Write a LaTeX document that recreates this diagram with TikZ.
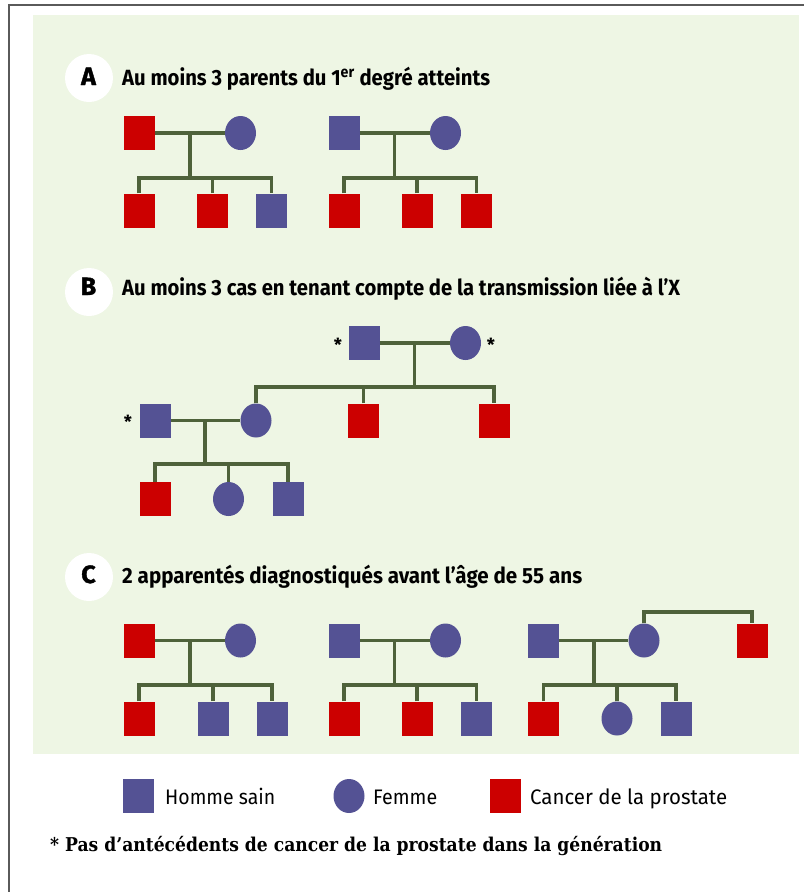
\documentclass[tikz,border=0pt]{standalone}
\usepackage{fontspec}
\usepackage{graphicx}
\setmainfont{Fira Sans}
\newfontfamily\heavyfont{Fira Sans}[BoldFeatures={FakeBold=1.5}]
\newfontfamily\notefont{DejaVu Serif}
\usetikzlibrary{calc,shapes.geometric}
\definecolor{bggreen}{RGB}{238,246,228}
\definecolor{lineg}{RGB}{78,98,58}
\definecolor{pblue}{RGB}{84,82,148}
\definecolor{pred}{RGB}{204,0,0}
\definecolor{frame}{RGB}{90,90,90}
\newcommand\fitw[2]{\resizebox{#1}{\height}{#2}}
\tikzset{
  person/.style={inner sep=0pt, minimum width=31pt, minimum height=34pt, draw=none},
  sain/.style={person, rectangle, fill=pblue},
  atteint/.style={person, rectangle, fill=pred},
  femme/.style={person, ellipse, fill=pblue},
  link/.style={draw=lineg, line width=3.2pt},
  letterdisc/.style={circle, fill=white, minimum size=48pt, inner sep=0pt},
  bigletter/.style={anchor=base, inner sep=0pt, font=\heavyfont\fontsize{25}{25}\selectfont\bfseries},
  titletext/.style={anchor=base west, inner sep=0pt, font=\fontsize{22}{22}\selectfont\bfseries},
  legtext/.style={anchor=base west, inner sep=0pt, font=\fontsize{21}{21}\selectfont},
  star/.style={inner sep=0pt, font=\fontsize{18}{18}\selectfont\bfseries}
}
\begin{document}
\begin{tikzpicture}[x=1pt,y=-1pt]
\useasboundingbox (0,0) rectangle (804,892);
% frame and background
\draw[frame, line width=2pt] (9,892) -- (9,5) -- (804,5);
\fill[bggreen] (33,15) rectangle (799,754);

% ---------- A ----------
\node[letterdisc] (discA) at (89,78) {};
\node[bigletter] (letA) at (88.5,85) {A};
\node[titletext] (titA) at (122,85) {\fitw{368pt}{Au moins 3 parents du 1\textsuperscript{er} degré atteints}};

\node[atteint] (a1f) at (139,133) {};
\node[femme]   (a1m) at (240.5,133) {};
\node[atteint] (a1c1) at (139,210.5) {};
\node[atteint] (a1c2) at (212.5,210.5) {};
\node[sain]    (a1c3) at (271.5,210.5) {};
\coordinate (a1d) at (190,133);
\coordinate (a1s) at (190,178);
\draw[link] (a1f.east) -- (a1m.west);
\draw[link] (a1d) -- (a1s);
\draw[link] (a1c1.north) |- (a1s) -| (a1c3.north);
\draw[link] (a1c2.north) -- (a1c2.north |- a1s);

\node[sain]    (a2f) at (344,133) {};
\node[femme]   (a2m) at (445.5,133) {};
\node[atteint] (a2c1) at (344,210.5) {};
\node[atteint] (a2c2) at (417,210.5) {};
\node[atteint] (a2c3) at (476.5,210.5) {};
\coordinate (a2d) at (394.5,133);
\coordinate (a2s) at (394.5,178);
\draw[link] (a2f.east) -- (a2m.west);
\draw[link] (a2d) -- (a2s);
\draw[link] (a2c1.north) |- (a2s) -| (a2c3.north);
\draw[link] (a2c2.north) -- (a2c2.north |- a2s);

% ---------- B ----------
\node[letterdisc] (discB) at (89,292) {};
\node[bigletter] (letB) at (88.5,295) {B};
\node[titletext] (titB) at (122,295) {\fitw{558pt}{Au moins 3 cas en tenant compte de la transmission liée à l’X}};

\node[sain]  (b1f) at (364,343) {};
\node[femme] (b1m) at (465.5,343) {};
\node[star] (s1) at (338,345) {*};
\node[star] (s2) at (491,345) {*};
\coordinate (b1d) at (414.5,343);
\coordinate (b1s) at (414.5,387);
\draw[link] (b1f.east) -- (b1m.west);
\draw[link] (b1d) -- (b1s);

\node[sain]    (b2f) at (155,420.5) {};
\node[femme]   (b2m) at (256,420.5) {};
\node[atteint] (b2b1) at (363.5,420.5) {};
\node[atteint] (b2b2) at (494,420.5) {};
\node[star] (s3) at (128,422) {*};
\draw[link] (b2m.north) |- (b1s) -| (b2b2.north);
\draw[link] (b2b1.north) -- (b2b1.north |- b1s);

\coordinate (b2d) at (205,420.5);
\coordinate (b2s) at (205,464);
\draw[link] (b2f.east) -- (b2m.west);
\draw[link] (b2d) -- (b2s);
\node[atteint] (b3c1) at (155,499) {};
\node[femme]   (b3c2) at (228.5,499) {};
\node[sain]    (b3c3) at (288,499) {};
\draw[link] (b3c1.north) |- (b2s) -| (b3c3.north);
\draw[link] (b3c2.north) -- (b3c2.north |- b2s);

% ---------- C ----------
\node[letterdisc] (discC) at (89,577) {};
\node[bigletter] (letC) at (88.5,583) {C};
\node[titletext] (titC) at (122,583) {\fitw{460pt}{2 apparentés diagnostiqués avant l’âge de 55 ans}};

\node[atteint] (c1f) at (139,640.5) {};
\node[femme]   (c1m) at (240.5,640.5) {};
\node[atteint] (c1c1) at (139,718.5) {};
\node[sain]    (c1c2) at (213,718.5) {};
\node[sain]    (c1c3) at (272,718.5) {};
\coordinate (c1d) at (190,640.5);
\coordinate (c1s) at (190,685);
\draw[link] (c1f.east) -- (c1m.west);
\draw[link] (c1d) -- (c1s);
\draw[link] (c1c1.north) |- (c1s) -| (c1c3.north);
\draw[link] (c1c2.north) -- (c1c2.north |- c1s);

\node[sain]    (c2f) at (344,640.5) {};
\node[femme]   (c2m) at (445.5,640.5) {};
\node[atteint] (c2c1) at (344,718.5) {};
\node[atteint] (c2c2) at (417,718.5) {};
\node[sain]    (c2c3) at (476.5,718.5) {};
\coordinate (c2d) at (394.5,640.5);
\coordinate (c2s) at (394.5,685);
\draw[link] (c2f.east) -- (c2m.west);
\draw[link] (c2d) -- (c2s);
\draw[link] (c2c1.north) |- (c2s) -| (c2c3.north);
\draw[link] (c2c2.north) -- (c2c2.north |- c2s);

\node[sain]    (c3f) at (543,640.5) {};
\node[femme]   (c3m) at (644,640.5) {};
\node[atteint] (c3b) at (752,640.5) {};
\node[atteint] (c3c1) at (543.5,718.5) {};
\node[femme]   (c3c2) at (617,718.5) {};
\node[sain]    (c3c3) at (676,718.5) {};
\coordinate (c3d) at (594,640.5);
\coordinate (c3s) at (594,685);
\coordinate (c3top) at (644,612);
\draw[link] (c3f.east) -- (c3m.west);
\draw[link] (c3d) -- (c3s);
\draw[link] (c3c1.north) |- (c3s) -| (c3c3.north);
\draw[link] (c3c2.north) -- (c3c2.north |- c3s);
\draw[link] (c3m.north) -- (c3top) -| (c3b.north);

% ---------- legend ----------
\node[sain]  (lg1) at (138.5,796) {};
\node[legtext] (lt1) at (165,804) {\fitw{110pt}{Homme sain}};
\node[femme] (lg2) at (349,796) {};
\node[legtext] (lt2) at (373,804) {\fitw{64pt}{Femme}};
\node[atteint] (lg3) at (505.5,796) {};
\node[legtext] (lt3) at (530,804) {\fitw{197pt}{Cancer de la prostate}};

\node[anchor=base west, inner sep=0pt, font=\notefont\fontsize{19}{19}\selectfont\bfseries] (note) at (50,851)
  {\fitw{612pt}{* Pas d’antécédents de cancer de la prostate dans la génération}};
\end{tikzpicture}
\end{document}
